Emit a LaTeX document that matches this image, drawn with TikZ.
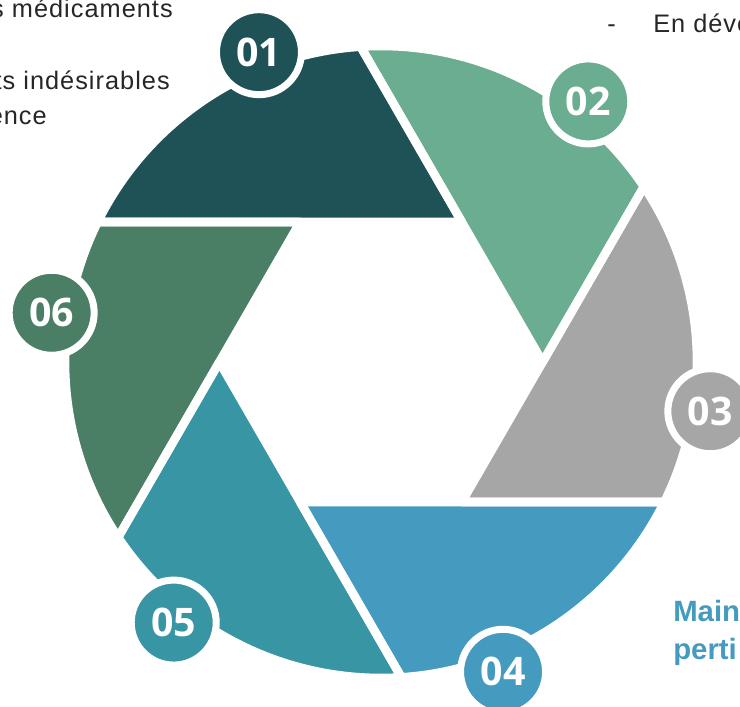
\documentclass[tikz,border=0pt]{standalone}
\usepackage{fontspec}
\setmainfont{Liberation Sans}
\newfontfamily\bodyfont[LetterSpace=4]{Liberation Sans}
\newfontfamily\numfont{Open Sans}
\definecolor{c1}{RGB}{30,82,87}
\definecolor{c2}{RGB}{106,173,144}
\definecolor{c3}{RGB}{166,166,166}
\definecolor{c4}{RGB}{68,155,191}
\definecolor{c5}{RGB}{56,150,164}
\definecolor{c6}{RGB}{74,126,101}
\tikzset{
  numc/.style={circle, draw=white, line width=5.25pt, minimum size=63.75pt, inner sep=0pt,
    text=white, font=\numfont\bfseries\fontsize{29.5}{29.5}\selectfont},
  bodytxt/.style={inner sep=0pt, font=\bodyfont\fontsize{19}{23}\selectfont, text=black!85},
  bluetxt/.style={inner sep=0pt, font=\bfseries\fontsize{22}{26}\selectfont, text=c4}
}
\begin{document}
\begin{tikzpicture}[x=0.75pt,y=0.75pt]
\useasboundingbox (0,0) rectangle (740,707);
\clip (0,0) rectangle (740,707);
\begin{scope}[shift={(381,345)}]
  \foreach \k/\col in {0/c1,1/c2,2/c3,3/c4,4/c5,5/c6}{
    \fill[\col] ({93.7-60*\k}:316) arc[start angle={93.7-60*\k}, end angle={153.7-60*\k}, radius=316]
      -- ({60-60*\k}:161.66) -- cycle;
  }
  \foreach \k in {0,...,5}{
    \draw[white, line width=6.4pt, line join=round] ({93.7-60*\k}:316) arc[start angle={93.7-60*\k}, end angle={153.7-60*\k}, radius=316]
      -- ({60-60*\k}:161.66) -- cycle;
  }
  \foreach \k/\t/\col in {0/01/c1,1/02/c2,2/03/c3,3/04/c4,4/05/c5,5/06/c6}{
    \node[numc, fill=\col] (n\t) at ({111.5-60*\k}:333) {\t};
  }
\end{scope}
\node[bodytxt, anchor=base east] (t1) at (173,689) {s médicaments};
\node[bodytxt, anchor=base east] (t2) at (170,617) {ts indésirables};
\node[bodytxt, anchor=base east] (t3) at (47,582) {ence};
\node[bodytxt, anchor=base west] (t4) at (607,674) {-};
\node[bodytxt, anchor=base west] (t5) at (653,674) {En déve};
\node[bluetxt, anchor=base west] (t6) at (673,85) {Main};
\node[bluetxt, anchor=base west] (t7) at (673,47) {perti};
\end{tikzpicture}
\end{document}
